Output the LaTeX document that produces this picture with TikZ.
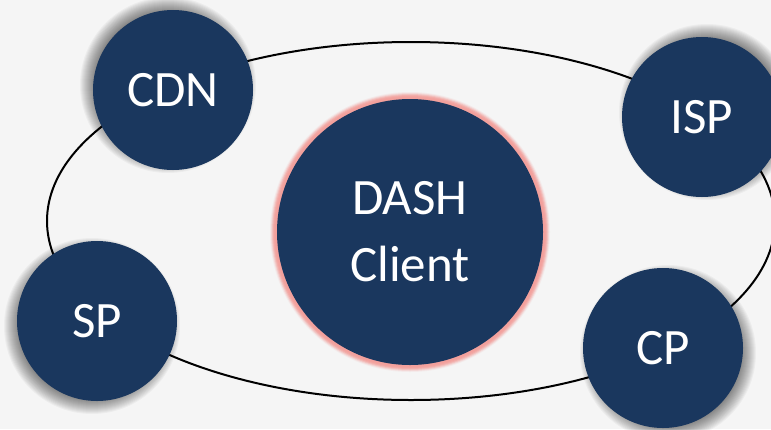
\documentclass[tikz,border=0pt]{standalone}
\usepackage{fontspec}
\setmainfont{Carlito}
\definecolor{navy}{HTML}{1A375E}
\definecolor{bg}{HTML}{F5F5F5}
\definecolor{glow}{HTML}{F2A09C}
\tikzset{
  party/.style={circle, fill=navy, text=white, minimum size=160pt, inner sep=0pt,
    font=\fontsize{51}{60}\selectfont},
  hub/.style={circle, fill=navy, text=white, minimum size=266pt, inner sep=0pt,
    align=center, font=\fontsize{51}{67}\selectfont},
}
% soft drop shadow: stacked translucent discs, offset away from the centre
\newcommand\dropshade[1]{%
  \foreach \r in {74,...,88} {\fill[black, opacity=0.035] (#1) circle[radius=\r];}}
\begin{document}
\begin{tikzpicture}[x=1pt,y=-1pt]
  \fill[bg] (0,0) rectangle (771,429);
  \useasboundingbox (0,0) rectangle (771,429);
  % ring joining the parties
  \draw[line width=2pt] (411,221) ellipse [x radius=364, y radius=179];
  % shadows of the parties
  \dropshade{168,85}
  \dropshade{707,112}
  \dropshade{668,353}
  \dropshade{92,326}
  % parties around the client
  \node[party] (cdn) at (173,90) {CDN};
  \node[party] (isp) at (702,117) {ISP};
  \node[party] (cp) at (663,348) {CP};
  \node[party] (sp) at (97,321) {SP};
  % soft pink halo behind the client
  \coordinate (c) at (410,232);
  \foreach \r/\o in {140/0.12, 139/0.25, 138/0.4, 137/0.55, 136/0.7, 135/0.85, 134/1} {
    \fill[glow, opacity=\o] (c) circle[radius=\r];
  }
  \node[hub] (dash) at (c) {DASH\\Client};
\end{tikzpicture}
\end{document}
